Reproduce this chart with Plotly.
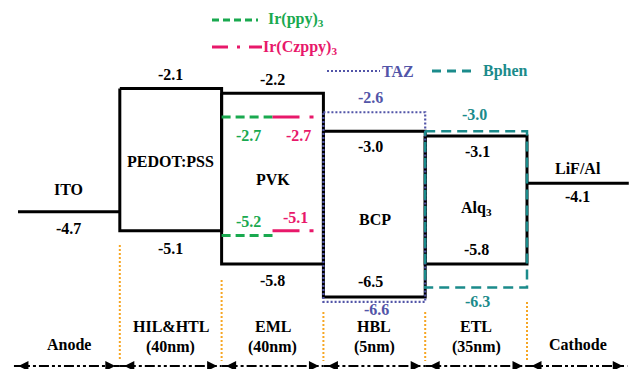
import plotly.graph_objects as go

# ---- energy levels (eV) ----
layers = ["ITO", "PEDOT:PSS", "PVK", "BCP", "Alq<sub>3</sub>", "LiF/Al"]
lumo = [None, -2.1, -2.2, -3.0, -3.1, None]
homo = [-4.7, -5.1, -5.8, -6.5, -5.8, -4.1]   # work function for electrodes

# dopants in the PVK emitting layer
ppy_levels = [-2.7, -5.2]        # Ir(ppy)3  LUMO, HOMO
czppy_levels = [-2.7, -5.1]      # Ir(Czppy)3 LUMO, HOMO

# alternative hole-blocking / electron-transport materials
taz_levels = [-2.6, -6.6]
bphen_levels = [-3.0, -6.3]

# function of each layer and its thickness (bottom row)
functions = ["Anode", "HIL&HTL", "EML", "HBL", "ETL", "Cathode"]
thickness = [None, "(40nm)", "(40nm)", "(5nm)", "(35nm)", None]

BLACK = "#000000"
GREEN = "#19a94f"
MAGENTA = "#e8186a"
TAZ_C = "#5255a8"
BPHEN_C = "#1b8b8b"
ORANGE = "#f6a623"
FONT = "Liberation Serif, Times New Roman, DejaVu Serif, serif"

W, H = 629, 369
x_range = [-0.177, 6.002]
y_range = [-8.017, -0.232]
px_per_x = W / (x_range[1] - x_range[0])

fig = go.Figure()


def line(xs, ys, color, width, dash="solid"):
    fig.add_trace(go.Scatter(x=xs, y=ys, mode="lines", hoverinfo="skip",
                             line=dict(color=color, width=width, dash=dash),
                             showlegend=False))


# electrodes and organic layers
for i, name in enumerate(layers):
    if lumo[i] is None:
        line([i, i + 1], [homo[i], homo[i]], BLACK, 3)
    else:
        line([i, i + 1, i + 1, i, i], [lumo[i], lumo[i], homo[i], homo[i], lumo[i]], BLACK, 3)

# dopant levels inside the PVK box
for lv in ppy_levels:
    line([2, 2.5], [lv, lv], GREEN, 3, "9px,5px")
for lv in czppy_levels:
    line([2.5, 2.97], [lv, lv], MAGENTA, 3, "27px,10px,4px,20px")

# TAZ (dotted) around BCP, Bphen (dashed) around Alq3
line([3, 4, 4, 3, 3], [taz_levels[0], taz_levels[0], taz_levels[1], taz_levels[1], taz_levels[0]],
     TAZ_C, 2.2, "2px,2px")
line([4, 5, 5, 4, 4], [bphen_levels[0], bphen_levels[0], bphen_levels[1], bphen_levels[1], bphen_levels[0]],
     BPHEN_C, 2.5, "10px,6px")

ann = []


def text(x, y, s, color=BLACK, yshift=0, xshift=0, size=16, xanchor="center", yref="y"):
    ann.append(dict(x=x, y=y, xref="x", yref=yref, text="<b>" + s + "</b>", showarrow=False,
                    xshift=xshift, yshift=yshift, xanchor=xanchor, yanchor="middle",
                    font=dict(family=FONT, size=size, color=color)))


# level values
text(0.5, homo[0], f"{homo[0]:.1f}", yshift=-17)
text(1.5, lumo[1], f"{lumo[1]:.1f}", yshift=14)
text(1.5, homo[1], f"{homo[1]:.1f}", yshift=-18)
text(2.5, lumo[2], f"{lumo[2]:.1f}", yshift=14)
text(2.5, homo[2], f"{homo[2]:.1f}", yshift=-17)
text(3.5, lumo[3], f"{lumo[3]:.1f}", yshift=-15, xshift=-4)
text(3.5, homo[3], f"{homo[3]:.1f}", yshift=16, xshift=-4)
text(4.5, lumo[4], f"{lumo[4]:.1f}", yshift=-16, xshift=1)
text(4.5, homo[4], f"{homo[4]:.1f}", yshift=14)
text(5.5, homo[5], f"{homo[5]:.1f}", yshift=-13)

text(2.25, ppy_levels[0], f"{ppy_levels[0]:.1f}", GREEN, yshift=-19, xshift=1)
text(2.25, ppy_levels[1], f"{ppy_levels[1]:.1f}", GREEN, yshift=14, xshift=1)
text(2.75, czppy_levels[0], f"{czppy_levels[0]:.1f}", MAGENTA, yshift=-19, xshift=1)
text(2.75, czppy_levels[1], f"{czppy_levels[1]:.1f}", MAGENTA, yshift=13, xshift=-2)

text(3.5, taz_levels[0], f"{taz_levels[0]:.1f}", TAZ_C, yshift=15, xshift=-4)
text(3.5, taz_levels[1], f"{taz_levels[1]:.1f}", TAZ_C, yshift=-8, xshift=2)
text(4.5, bphen_levels[0], f"{bphen_levels[0]:.1f}", BPHEN_C, yshift=17, xshift=-2)
text(4.5, bphen_levels[1], f"{bphen_levels[1]:.1f}", BPHEN_C, yshift=-14, xshift=1)

# layer names
text(0.5, homo[0], layers[0], yshift=22)
text(1.5, (lumo[1] + homo[1]) / 2, layers[1], yshift=-2)
text(2.5, (lumo[2] + homo[2]) / 2, layers[2], yshift=-1)
text(3.5, (lumo[3] + homo[3]) / 2, layers[3], xshift=1, yshift=-5)
text(4.5, (lumo[4] + homo[4]) / 2, layers[4], yshift=-9)
text(5.5, homo[5], layers[5], yshift=15)

# bottom row: function of each layer, thickness underneath
for i, (f, t) in enumerate(zip(functions, thickness)):
    if t is None:
        text(i + 0.5, 1 - 344 / H, f, yref="paper")
    else:
        text(i + 0.5, 1 - 326 / H, f, yref="paper")
        text(i + 0.5, 1 - 347 / H, t, yref="paper")

shapes = []
# orange dotted separators
sep_top_px = [245, 280, 312, 312, 302]
for k, top in enumerate(sep_top_px):
    shapes.append(dict(type="line", xref="x", yref="paper", x0=k + 1, x1=k + 1,
                       y0=1 - top / H, y1=1 - 361 / H,
                       line=dict(color=ORANGE, width=2, dash="2px,2px")))

# double-headed dash-dot-dot arrows along the bottom
bounds = [-0.04, 1, 2, 3, 4, 5, 5.985]
arrow_y = 1 - 366 / H
arrow_y_data = y_range[0] + (y_range[1] - y_range[0]) * arrow_y
for a, b in zip(bounds[:-1], bounds[1:]):
    shapes.append(dict(type="line", xref="x", yref="paper", x0=a, x1=b, y0=arrow_y, y1=arrow_y,
                       line=dict(color=BLACK, width=2, dash="10px,3px,3px,3px,3px,3px")))

head = 4.5 / px_per_x     # half the arrowhead length, so that the tip sits on the boundary
fig.add_trace(go.Scatter(
    x=[a + head for a in bounds[:-1]], y=[arrow_y_data] * (len(bounds) - 1), mode="markers",
    hoverinfo="skip", showlegend=False, cliponaxis=False,
    marker=dict(symbol="arrow-left", size=10, color=BLACK, line=dict(width=0))))
fig.add_trace(go.Scatter(
    x=[b - head for b in bounds[1:]], y=[arrow_y_data] * (len(bounds) - 1), mode="markers",
    hoverinfo="skip", showlegend=False, cliponaxis=False,
    marker=dict(symbol="arrow-right", size=10, color=BLACK, line=dict(width=0))))


# legend samples
def legend_item(x0_px, x1_px, y_px, color, width, dash, label, tx_px):
    shapes.append(dict(type="line", xref="paper", yref="paper",
                       x0=x0_px / W, x1=x1_px / W, y0=1 - y_px / H, y1=1 - y_px / H,
                       line=dict(color=color, width=width, dash=dash)))
    ann.append(dict(x=tx_px / W, y=1 - y_px / H, xref="paper", yref="paper",
                    text="<b>" + label + "</b>", showarrow=False, xanchor="left", yanchor="middle",
                    font=dict(family=FONT, size=16, color=color)))


legend_item(212, 258, 20, GREEN, 3, "7px,4px", "Ir(ppy)<sub>3</sub>", 266)
legend_item(212, 262, 47, MAGENTA, 3, "16px,9px,3px,9px", "Ir(Czppy)<sub>3</sub>", 261)
legend_item(327, 380, 71, TAZ_C, 2.2, "2px,2px", "TAZ", 380)
legend_item(432, 476, 71, BPHEN_C, 3, "9px,6px", "Bphen", 481)

fig.update_layout(
    width=W, height=H, margin=dict(l=0, r=0, t=0, b=0),
    paper_bgcolor="white", plot_bgcolor="white",
    font=dict(family=FONT),
    xaxis=dict(range=x_range, visible=False, fixedrange=True),
    yaxis=dict(range=y_range, visible=False, fixedrange=True),
    annotations=ann, shapes=shapes, showlegend=False,
)

fig.write_html("out.html")
